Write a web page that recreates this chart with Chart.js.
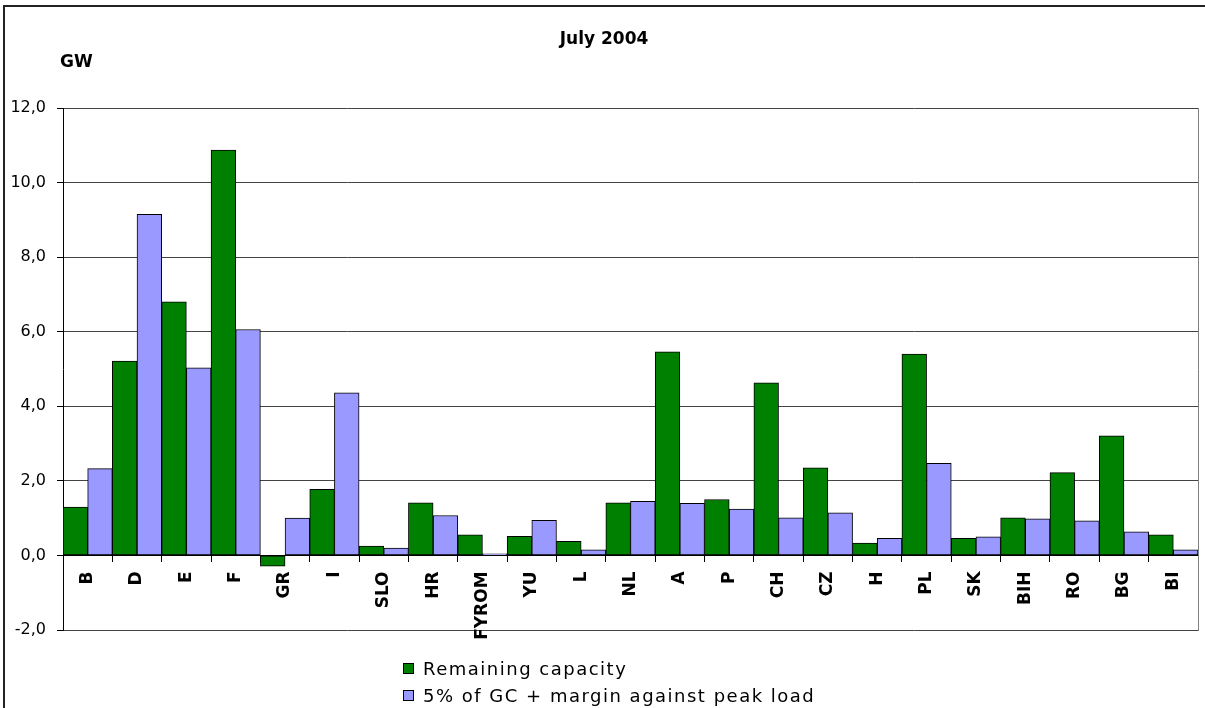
<!DOCTYPE html>
<html>
<head>
<meta charset="utf-8">
<title>July 2004</title>
<script src="https://cdn.jsdelivr.net/npm/chart.js@4"></script>
<style>
    body { margin: 0; background: #fff; overflow: hidden; font-family: 'DejaVu Sans', sans-serif; }
    #wrap { position: relative; width: 1205px; height: 708px; overflow: hidden; }
    #frame { position: absolute; left: 3px; top: 5px; width: 1300px; height: 800px; border-top: 2px solid #222; border-left: 2px solid #222; }
    #gw { position: absolute; left: 60px; top: 51px; font-size: 17px; font-weight: bold; color: #000; }
    .legend { position: absolute; left: 403px; font-size: 18px; letter-spacing: 1.5px; color: #000; line-height: 20px; }
    .legend span { display: inline-block; width: 9px; height: 9px; border: 1px solid #000; margin-right: 9px; vertical-align: 1px; }
</style>
</head>
<body>
<div id="wrap">
    <div id="frame"></div>
    <canvas id="capacityChart" width="1205" height="708"></canvas>
    <div id="gw">GW</div>
    <div class="legend" style="top: 659px;"><span style="background:#008000"></span>Remaining capacity</div>
    <div class="legend" style="top: 686px;"><span style="background:#9999ff"></span>5% of GC + margin against peak load</div>
</div>
<script>
// Countries along the x axis
const countries = ['B', 'D', 'E', 'F', 'GR', 'I', 'SLO', 'HR', 'FYROM', 'YU', 'L', 'NL',
    'A', 'P', 'CH', 'CZ', 'H', 'PL', 'SK', 'BIH', 'RO', 'BG', 'BI'];

// GW values
const remainingCapacity = [1.30, 5.21, 6.80, 10.87, -0.29, 1.77, 0.25, 1.41, 0.55, 0.51, 0.38, 1.41,
    5.46, 1.50, 4.63, 2.35, 0.33, 5.40, 0.46, 1.01, 2.22, 3.21, 0.55];
const marginPeakLoad = [2.33, 9.15, 5.03, 6.06, 1.00, 4.36, 0.20, 1.07, 0.04, 0.94, 0.15, 1.45,
    1.40, 1.24, 1.01, 1.14, 0.46, 2.47, 0.50, 0.98, 0.93, 0.63, 0.15];

const yMin = -2;
const yMax = 12;
const yStep = 2;

Chart.defaults.font.family = "'DejaVu Sans', sans-serif";
Chart.defaults.color = '#000';

const ctx = document.getElementById('capacityChart').getContext('2d');
const capacityChart = new Chart(ctx, {
    type: 'bar',
    data: {
        labels: countries,
        datasets: [{
            label: 'Remaining capacity',
            data: remainingCapacity,
            backgroundColor: '#008000',
            borderColor: '#000',
            borderWidth: 1,
            borderSkipped: false
        }, {
            label: '5% of GC + margin against peak load',
            data: marginPeakLoad,
            backgroundColor: '#9999ff',
            borderColor: '#000',
            borderWidth: 1,
            borderSkipped: false
        }]
    },
    options: {
        responsive: false,
        animation: false,
        categoryPercentage: 1.0,
        barPercentage: 1.0,
        layout: {
            padding: { left: 10, right: 7, top: 0, bottom: 78 }
        },
        plugins: {
            legend: { display: false },
            tooltip: { enabled: false },
            title: {
                display: true,
                text: 'July 2004',
                font: { size: 17, weight: 'bold' },
                color: '#000',
                padding: { top: 29, bottom: 58.6 }
            }
        },
        scales: {
            x: {
                position: { y: 0 },
                grid: {
                    offset: true,
                    drawOnChartArea: false,
                    drawTicks: true,
                    tickLength: 6,
                    tickColor: '#000'
                },
                border: { display: true, color: '#000', width: 1 },
                ticks: {
                    minRotation: 90,
                    maxRotation: 90,
                    autoSkip: false,
                    padding: 10,
                    font: { size: 17, weight: 'bold' },
                    color: '#000'
                }
            },
            y: {
                min: yMin,
                max: yMax,
                afterFit: (scale) => { scale.width = 53; },
                grid: {
                    color: '#444',
                    lineWidth: 1,
                    tickLength: 6,
                    tickColor: '#000'
                },
                border: { display: true, color: '#000', width: 1 },
                ticks: {
                    stepSize: yStep,
                    padding: 11,
                    font: { size: 16 },
                    color: '#000',
                    callback: (v) => v.toFixed(1).replace('.', ',')
                }
            },
            yRight: {
                position: 'right',
                min: yMin,
                max: yMax,
                afterFit: (scale) => { scale.width = 0; },
                grid: { display: false, drawTicks: false },
                border: { display: true, color: '#808080', width: 1 },
                ticks: { display: false }
            }
        }
    }
});
</script>
</body>
</html>
